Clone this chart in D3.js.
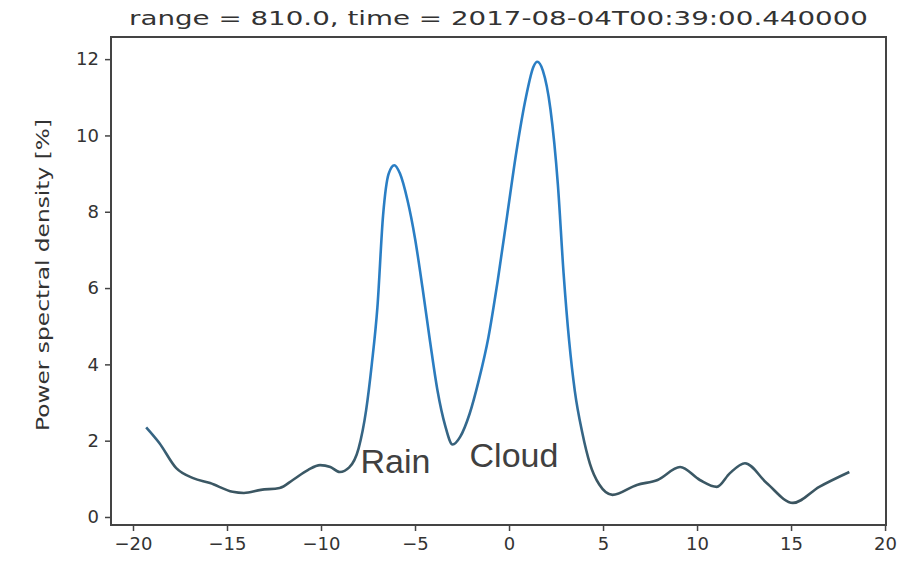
<!DOCTYPE html>
<html>
<head>
<meta charset="utf-8">
<script src="https://cdn.jsdelivr.net/npm/d3@7"></script>
<style>
  body { margin: 0; background: #fff; }
  text { font-family: "DejaVu Sans", sans-serif; fill: #333; }
</style>
</head>
<body>
<div id="chart"></div>
<script>
// spectrum
var velocity = [-19.3, -18.6, -17.7, -16.8, -15.9, -14.7, -14.1, -13.2, -12.2, -11.5, -10.7, -10.05, -9.5, -9.0, -8.5, -8.0, -7.6, -7.3, -7.0, -6.7, -6.4, -6.1, -5.8, -5.4, -5.0, -4.6, -4.2, -3.8, -3.4, -3.0, -2.6, -2.1, -1.6, -1.1, -0.6, -0.1, 0.4, 0.9, 1.3, 1.5, 1.8, 2.2, 2.6, 2.9, 3.2, 3.5, 3.9, 4.3, 4.8, 5.5, 6.8, 7.9, 9.1, 10.15, 11.05, 11.75, 12.55, 13.7, 15.1, 16.5, 18.1];
var psd = [2.35, 1.94, 1.28, 1.02, 0.89, 0.66, 0.63, 0.71, 0.76, 0.97, 1.23, 1.36, 1.31, 1.18, 1.3, 1.8, 2.8, 4.0, 5.5, 7.9, 9.0, 9.22, 9.0, 8.3, 7.3, 6.0, 4.6, 3.3, 2.4, 1.9, 2.1, 2.7, 3.6, 4.7, 6.2, 7.9, 9.6, 11.0, 11.8, 11.93, 11.7, 10.7, 8.7, 6.4, 4.6, 3.3, 2.2, 1.4, 0.85, 0.58, 0.84, 0.97, 1.31, 0.97, 0.79, 1.15, 1.41, 0.89, 0.37, 0.79, 1.18];
var xTicks = [-20, -15, -10, -5, 0, 5, 10, 15, 20];
var yTicks = [0, 2, 4, 6, 8, 10, 12];
var title = "range = 810.0, time = 2017-08-04T00:39:00.440000";
var yLabel = "Power spectral density [%]";
var notes = [{text: "Rain", x: -7.9}, {text: "Cloud", x: -2.1}];

var data = velocity.map(function(v, i) { return {x: v, y: psd[i]}; });

var W = 901, H = 568;
var margin = {top: 37, right: 15, bottom: 43, left: 111},
    width = W - margin.left - margin.right,
    height = H - margin.top - margin.bottom;

var xScale = d3.scaleLinear().domain([-21.17, 20.05]).range([0, width]);
var yScale = d3.scaleLinear().domain([-0.21, 12.58]).range([height, 0]);

var svg = d3.select("#chart").append("svg")
    .attr("width", W)
    .attr("height", H);

var g = svg.append("g")
    .attr("transform", "translate(" + margin.left + "," + margin.top + ")");

// colour shifts from dark grey in the tails to blue on the peaks
var grad = svg.append("defs").append("linearGradient")
    .attr("id", "lineGrad")
    .attr("gradientUnits", "userSpaceOnUse")
    .attr("x1", 0).attr("x2", 0)
    .attr("y1", yScale(0)).attr("y2", yScale(4));
grad.append("stop").attr("offset", "0%").attr("stop-color", "#3b525c");
grad.append("stop").attr("offset", "35%").attr("stop-color", "#3b5a68");
grad.append("stop").attr("offset", "100%").attr("stop-color", "#2a7ec4");

var line = d3.line()
    .x(function(d) { return xScale(d.x); })
    .y(function(d) { return yScale(d.y); })
    .curve(d3.curveMonotoneX);

g.append("path")
    .datum(data)
    .attr("fill", "none")
    .attr("stroke", "url(#lineGrad)")
    .attr("stroke-width", 2.6)
    .attr("stroke-linejoin", "round")
    .attr("d", line);

// axes
var xAxis = d3.axisBottom(xScale).tickValues(xTicks).tickSize(6).tickPadding(6);
var yAxis = d3.axisLeft(yScale).tickValues(yTicks).tickSize(6).tickPadding(6);

g.append("g")
    .attr("class", "x axis")
    .attr("transform", "translate(0," + height + ")")
    .call(xAxis);

g.append("g")
    .attr("class", "y axis")
    .call(yAxis);

g.selectAll(".axis .domain").remove();
g.selectAll(".axis line").attr("stroke", "#444").attr("stroke-width", 1.5);
g.selectAll(".axis text").attr("font-size", 18).attr("fill", "#333")
    .style("font-family", "DejaVu Sans, sans-serif");

// frame
g.append("rect")
    .attr("width", width)
    .attr("height", height)
    .attr("fill", "none")
    .attr("stroke", "#444")
    .attr("stroke-width", 2);

// title and axis label
svg.append("text")
    .attr("x", 129)
    .attr("y", 25)
    .attr("font-size", 20)
    .attr("textLength", 739)
    .attr("lengthAdjust", "spacingAndGlyphs")
    .text(title);

svg.append("text")
    .attr("transform", "translate(49," + 431 + ") rotate(-90)")
    .attr("font-size", 17)
    .attr("textLength", 312)
    .attr("lengthAdjust", "spacingAndGlyphs")
    .text(yLabel);

// annotations
g.selectAll(".note")
    .data(notes)
    .enter()
    .append("text")
    .attr("class", "note")
    .attr("x", function(d) { return xScale(d.x); })
    .attr("y", function(d, i) { return i === 0 ? 473 - margin.top : 467 - margin.top; })
    .attr("font-size", 34)
    .style("font-family", "Liberation Sans, Arial, sans-serif")
    .style("fill", "#404040")
    .text(function(d) { return d.text; });
</script>
</body>
</html>
